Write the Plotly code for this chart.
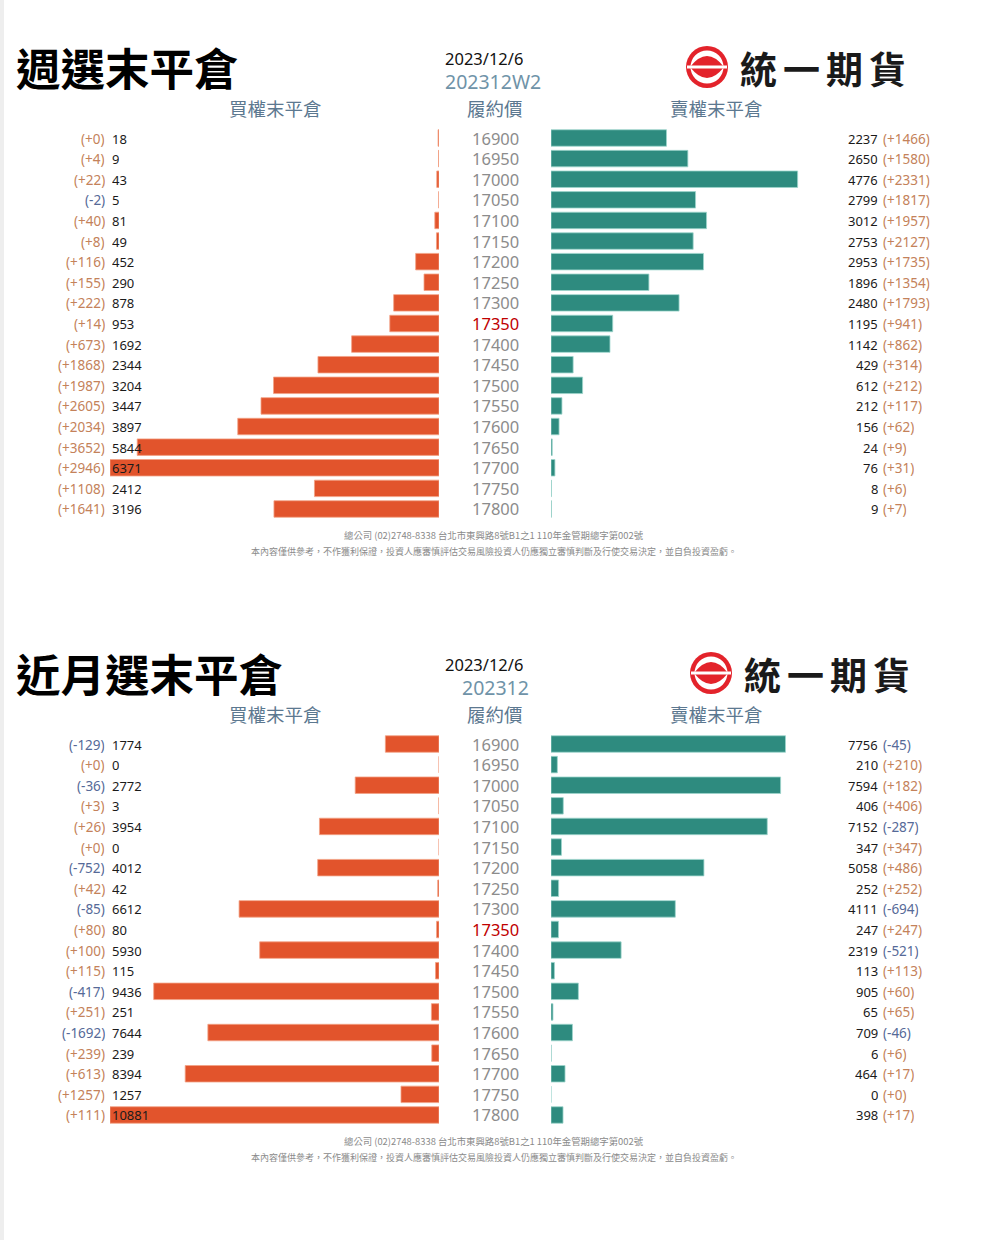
import plotly.graph_objects as go

W, H = 983, 1240

strikes = [16900, 16950, 17000, 17050, 17100, 17150, 17200, 17250, 17300, 17350,
           17400, 17450, 17500, 17550, 17600, 17650, 17700, 17750, 17800]
atm_strike = 17350

# weekly (202312W2)
w_call = [18, 9, 43, 5, 81, 49, 452, 290, 878, 953, 1692, 2344, 3204, 3447, 3897, 5844, 6371, 2412, 3196]
w_call_chg = [0, 4, 22, -2, 40, 8, 116, 155, 222, 14, 673, 1868, 1987, 2605, 2034, 3652, 2946, 1108, 1641]
w_put = [2237, 2650, 4776, 2799, 3012, 2753, 2953, 1896, 2480, 1195, 1142, 429, 612, 212, 156, 24, 76, 8, 9]
w_put_chg = [1466, 1580, 2331, 1817, 1957, 2127, 1735, 1354, 1793, 941, 862, 314, 212, 117, 62, 9, 31, 6, 7]

# monthly (202312)
m_call = [1774, 0, 2772, 3, 3954, 0, 4012, 42, 6612, 80, 5930, 115, 9436, 251, 7644, 239, 8394, 1257, 10881]
m_call_chg = [-129, 0, -36, 3, 26, 0, -752, 42, -85, 80, 100, 115, -417, 251, -1692, 239, 613, 1257, 111]
m_put = [7756, 210, 7594, 406, 7152, 347, 5058, 252, 4111, 247, 2319, 113, 905, 65, 709, 6, 464, 0, 398]
m_put_chg = [-45, 210, 182, 406, -287, 347, 486, 252, -694, 247, -521, 113, 60, 65, -46, 6, 17, 0, 17]

date_text = "2023/12/6"
panels = [
    dict(title="週選末平倉", contract="202312W2", call=w_call, call_chg=w_call_chg,
         put=w_put, put_chg=w_put_chg, top=0),
    dict(title="近月選末平倉", contract="202312", call=m_call, call_chg=m_call_chg,
         put=m_put, put_chg=m_put_chg, top=606),
]
footer1 = "總公司 (02)2748-8338 台北市東興路8號B1之1 110年金管期總字第002號"
footer2 = "本內容僅供參考，不作獲利保證，投資人應審慎評估交易風險投資人仍應獨立審慎判斷及行使交易決定，並自負投資盈虧。"

CJK = "Noto Sans CJK TC"
NUM = "Noto Sans, Noto Sans CJK TC"
ORANGE = "#e2542c"
TEAL = "#2e8b7f"
CHG_POS = "#c4825a"
CHG_NEG = "#566a98"
HEAD = "#5c7890"


def px(x):
    return x / W


def py(y):
    return 1 - y / H


def fmt_chg(v):
    return f"({'+' if v >= 0 else '-'}{abs(v)})"


fig = go.Figure()
annotations = []
shapes = []
cats = [str(s) for s in strikes]
row_h = 20.61

for i, p in enumerate(panels):
    t = p["top"]
    n = i * 2
    xl = "x" if n == 0 else f"x{n + 1}"
    xr = f"x{n + 2}"
    yname = "y" if i == 0 else "y2"
    mx = max(max(p["call"]), max(p["put"]))
    y_top = t + 138 - row_h / 2
    y_bot = t + 138 + row_h * 18 + row_h / 2

    fig.add_trace(go.Bar(x=p["call"], y=cats, orientation="h", xaxis=xl, yaxis=yname,
                         marker=dict(color=ORANGE, line=dict(color="#f3a285", width=0.8)),
                         hoverinfo="x+y", showlegend=False))
    fig.add_trace(go.Bar(x=p["put"], y=cats, orientation="h", xaxis=xr, yaxis=yname,
                         marker=dict(color=TEAL, line=dict(color="#9ed6cd", width=0.8)),
                         hoverinfo="x+y", showlegend=False))

    lk = "xaxis" if n == 0 else f"xaxis{n + 1}"
    rk = f"xaxis{n + 2}"
    yk = "yaxis" if i == 0 else "yaxis2"
    fig.update_layout(**{
        lk: dict(domain=[px(110), px(439)], range=[mx, 0], visible=False, anchor=yname, fixedrange=True),
        rk: dict(domain=[px(551), px(880)], range=[0, mx], visible=False, anchor=yname, fixedrange=True),
        yk: dict(domain=[py(y_bot), py(y_top)], type="category", categoryarray=cats,
                 range=[18.5, -0.5], visible=False, anchor=xl, fixedrange=True),
    })

    for k, (s, c, cc, pv, pc) in enumerate(zip(cats, p["call"], p["call_chg"], p["put"], p["put_chg"])):
        annotations += [
            dict(x=px(107), y=k, xref="paper", yref=yname, text=fmt_chg(cc), showarrow=False,
                 xanchor="right", height=17,
                 font=dict(family=NUM, size=13.5, color=CHG_POS if cc >= 0 else CHG_NEG)),
            dict(x=px(110), y=k, xref="paper", yref=yname, text=str(c), showarrow=False,
                 xanchor="left", height=17, font=dict(family=NUM, size=13, color="#1a1a1a")),
            dict(x=px(880), y=k, xref="paper", yref=yname, text=str(pv), showarrow=False,
                 xanchor="right", height=17, font=dict(family=NUM, size=13, color="#1a1a1a")),
            dict(x=px(881), y=k, xref="paper", yref=yname, text=fmt_chg(pc), showarrow=False,
                 xanchor="left", height=17,
                 font=dict(family=NUM, size=13.5, color=CHG_POS if pc >= 0 else CHG_NEG)),
            dict(x=px(495), y=k, xref="paper", yref=yname, text=s, showarrow=False,
                 xanchor="center", height=19, font=dict(family=NUM, size=16.5,
                                             color="#c00000" if s == str(atm_strike) else "#8c8c8c")),
        ]

    # titles and headers
    annotations += [
        dict(x=px(14), y=py(t + 66), xref="paper", yref="paper", text=f"<b>{p['title']}</b>",
             showarrow=False, xanchor="left", yanchor="middle",
             font=dict(family=CJK, size=44.5, color="#000000")),
        dict(x=px(443), y=py(t + 58), xref="paper", yref="paper", text=date_text,
             showarrow=False, xanchor="left", yanchor="middle", height=20,
             font=dict(family=NUM, size=16.5, color="#111111")),
        dict(x=px(443) if i == 0 else px(531), y=py(t + 81.5), xref="paper", yref="paper",
             text=p["contract"], showarrow=False, xanchor="left" if i == 0 else "right",
             yanchor="middle", height=23, font=dict(family=NUM, size=19.5, color="#6f93a8")),
        dict(x=px(275), y=py(t + 108), xref="paper", yref="paper", text="買權末平倉",
             showarrow=False, xanchor="center", yanchor="middle",
             font=dict(family=CJK, size=18.5, color=HEAD)),
        dict(x=px(495), y=py(t + 108), xref="paper", yref="paper", text="履約價",
             showarrow=False, xanchor="center", yanchor="middle",
             font=dict(family=CJK, size=18.5, color=HEAD)),
        dict(x=px(716), y=py(t + 108), xref="paper", yref="paper", text="賣權末平倉",
             showarrow=False, xanchor="center", yanchor="middle",
             font=dict(family=CJK, size=18.5, color=HEAD)),
        dict(x=px(494), y=py(t + 535), xref="paper", yref="paper", text=footer1,
             showarrow=False, xanchor="center", yanchor="middle", height=14,
             font=dict(family=CJK, size=9.4, color="#8a8a8a")),
        dict(x=px(494), y=py(t + 551), xref="paper", yref="paper", text=footer2,
             showarrow=False, xanchor="center", yanchor="middle", height=14,
             font=dict(family=CJK, size=9, color="#8a8a8a")),
    ]

    # logo
    lx = 707 + (4 if i == 1 else 0)
    ly = t + 67
    shapes += [
        dict(type="circle", xref="paper", yref="paper", x0=px(lx - 21), x1=px(lx + 21),
             y0=py(ly + 21), y1=py(ly - 21), fillcolor="#e3232b", line=dict(width=0)),
        dict(type="circle", xref="paper", yref="paper", x0=px(lx - 16.5), x1=px(lx + 16.5),
             y0=py(ly + 16.5), y1=py(ly - 16.5), fillcolor="#ffffff", line=dict(width=0)),
        dict(type="path", xref="paper", yref="paper",
             path=(f"M {px(lx - 17)},{py(ly)} Q {px(lx)},{py(ly - 22)} {px(lx + 17)},{py(ly)} "
                   f"Q {px(lx)},{py(ly + 22)} {px(lx - 17)},{py(ly)} Z"),
             fillcolor="#e3232b", line=dict(width=0)),
        dict(type="rect", xref="paper", yref="paper", x0=px(lx - 20), x1=px(lx + 20),
             y0=py(ly + 1.6), y1=py(ly - 1.6), fillcolor="#ffffff", line=dict(width=0)),
    ]
    for k, ch in enumerate("統一期貨"):
        annotations.append(dict(x=px(lx + 51 + k * 43), y=py(ly + 1), xref="paper", yref="paper",
                                text=f"<b>{ch}</b>", showarrow=False, xanchor="center",
                                yanchor="middle", font=dict(family=CJK, size=37, color="#1a1a1a")))

shapes.append(dict(type="rect", xref="paper", yref="paper", x0=0, x1=px(4), y0=0, y1=1,
                   fillcolor="#eeeeee", line=dict(width=0), layer="below"))

fig.update_layout(width=W, height=H, autosize=False, margin=dict(l=0, r=0, t=0, b=0),
                  paper_bgcolor="#ffffff", plot_bgcolor="rgba(0,0,0,0)", bargap=0.2,
                  annotations=annotations, shapes=shapes, showlegend=False)

fig.write_html("out.html", config={"displayModeBar": False},
               post_script="document.body.style.margin='0px';document.body.style.overflow='hidden';")
